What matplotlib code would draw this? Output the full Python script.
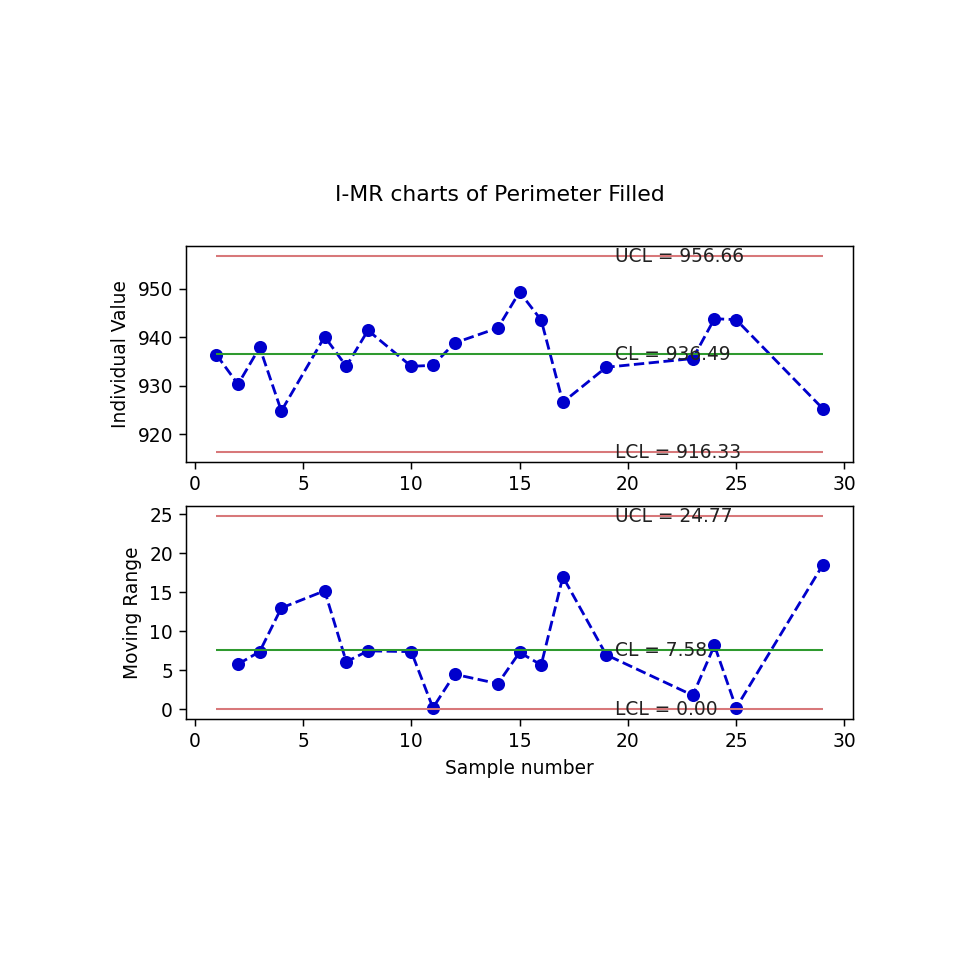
import matplotlib
matplotlib.use("Agg")
import matplotlib.pyplot as plt
import numpy as np

# Data
sample = [1, 2, 3, 4, 6, 7, 8, 10, 11, 12, 14, 15, 16, 17, 19, 23, 24, 25, 29]
individual = [936.4, 930.3, 937.9, 924.8, 940.1, 934.0, 941.4, 934.0, 934.2, 938.8,
              941.9, 949.3, 943.5, 926.6, 933.8, 935.6, 943.8, 943.6, 925.3]
mr_sample = [2, 3, 4, 6, 7, 8, 10, 11, 12, 14, 15, 16, 17, 19, 23, 24, 25, 29]
moving_range = [5.8, 7.4, 13.0, 15.2, 6.1, 7.5, 7.4, 0.2, 4.5, 3.3, 7.3, 5.7, 17.0,
                7.0, 1.8, 8.2, 0.2, 18.5]

i_ucl, i_cl, i_lcl = 956.66, 936.49, 916.33
mr_ucl, mr_cl, mr_lcl = 24.77, 7.58, 0.00
title = "I-MR charts of Perimeter Filled"

DPI = 134.4
fig = plt.figure(figsize=(960 / DPI, 960 / DPI), dpi=DPI)
ax1 = fig.add_axes([0.1938, 0.5188, 0.6948, 0.2245])
ax2 = fig.add_axes([0.1938, 0.2510, 0.6948, 0.2214])

red = "#d8787a"
green = "#2f9a2f"
blue = "#0000cc"
xmin, xmax = min(sample), max(sample)
tx = 19.4

ax1.plot(sample, individual, "o--", color=blue)
ax1.hlines(i_ucl, xmin, xmax, color=red, lw=1.1)
ax1.hlines(i_cl, xmin, xmax, color=green, lw=1.1)
ax1.hlines(i_lcl, xmin, xmax, color=red, lw=1.1)
ax1.text(tx, i_ucl, f"UCL = {i_ucl:.2f}", va="center", color="#222222")
ax1.text(tx, i_cl, f"CL = {i_cl:.2f}", va="center", color="#222222")
ax1.text(tx, i_lcl, f"LCL = {i_lcl:.2f}", va="center", color="#222222")
ax1.set_ylabel("Individual Value")
ax1.set_yticks([920, 930, 940, 950])

ax2.plot(mr_sample, moving_range, "o--", color=blue)
ax2.hlines(mr_ucl, xmin, xmax, color=red, lw=1.1)
ax2.hlines(mr_cl, xmin, xmax, color=green, lw=1.1)
ax2.hlines(mr_lcl, xmin, xmax, color=red, lw=1.1)
ax2.text(tx, mr_ucl, f"UCL = {mr_ucl:.2f}", va="center", color="#222222")
ax2.text(tx, mr_cl, f"CL = {mr_cl:.2f}", va="center", color="#222222")
ax2.text(tx, mr_lcl, f"LCL = {mr_lcl:.2f}", va="center", color="#222222")
ax2.set_ylabel("Moving Range")
ax2.set_xlabel("Sample number")
ax2.set_yticks([0, 5, 10, 15, 20, 25])

for ax in (ax1, ax2):
    ax.set_xticks([0, 5, 10, 15, 20, 25, 30])

fig.text(0.521, 0.797, title, ha="center", va="center", fontsize=11.7)

fig.savefig("out.png", dpi=DPI)
